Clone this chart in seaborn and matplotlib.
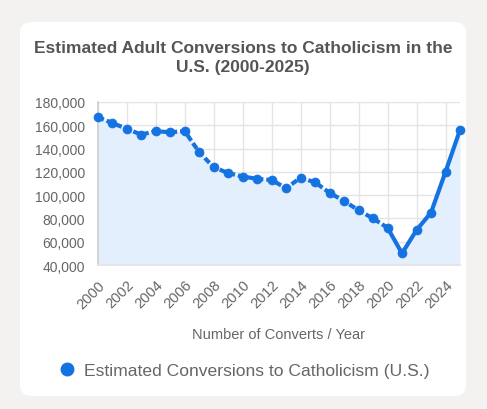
import matplotlib
matplotlib.use("Agg")
import matplotlib.pyplot as plt
import seaborn as sns
import pandas as pd
from matplotlib.patches import FancyBboxPatch
from matplotlib.lines import Line2D
from matplotlib.ticker import FuncFormatter

years = list(range(2000, 2026))
converts = [167000, 162000, 157000, 152000, 155000, 154000, 155000, 137000,
            124000, 119000, 116000, 114000, 113000, 106000, 115000, 111000,
            102000, 95000, 87000, 80000, 72000, 50000, 70000, 85000, 120000, 156000]
title = "Estimated Adult Conversions to Catholicism in the\nU.S. (2000-2025)"
series_name = "Estimated Conversions to Catholicism (U.S.)"
x_label = "Number of Converts / Year"

df = pd.DataFrame({"year": years, "converts": converts})
dashed = df[df.year <= 2020]
solid = df[df.year >= 2020]

sns.set_theme(style="white")
plt.rcParams['font.family'] = ['Liberation Sans', 'DejaVu Sans']

BLUE = "#1473e0"
FILL = "#e3effc"
GRID = "#e4e4e4"
TXT = "#666666"

fig = plt.figure(figsize=(4.87, 4.10), dpi=100)
fig.patch.set_facecolor("#f3f2f0")
card = FancyBboxPatch((20/487, 1-397/410), 446/487, 374/410,
                      boxstyle="round,pad=0,rounding_size=0.025",
                      transform=fig.transFigure, facecolor="white",
                      edgecolor="none", zorder=-5)
fig.patches.append(card)

ax = fig.add_axes([97.7/487, 1-266/410, (460-97.7)/487, (266-103)/410])
ax.set_zorder(2)
ax.set_facecolor("none")

ax.fill_between(df.year, df.converts, 40000, color=FILL, zorder=1, linewidth=0)
sns.lineplot(data=dashed, x="year", y="converts", ax=ax, color=BLUE,
             linewidth=3.0, zorder=3)
ax.lines[-1].set_dashes([1.6, 0.7])
sns.lineplot(data=solid, x="year", y="converts", ax=ax, color=BLUE,
             linewidth=3.0, zorder=3)
sns.scatterplot(data=df, x="year", y="converts", ax=ax, color=BLUE, s=42,
                edgecolor=BLUE, linewidth=0.5, zorder=4, clip_on=False)

ax.set_xlim(2000, 2025)
ax.set_ylim(40000, 180000)
ax.set_xticks(range(2000, 2025, 2))
ax.set_yticks(range(40000, 180001, 20000))
ax.yaxis.set_major_formatter(FuncFormatter(lambda v, p: f"{int(v):,}"))
ax.grid(True, color=GRID, linewidth=1)
ax.set_axisbelow(True)
for s in ax.spines.values():
    s.set_visible(False)
ax.spines['left'].set_visible(True)
ax.spines['left'].set_color("#d0d0d0")
ax.spines['bottom'].set_visible(True)
ax.spines['bottom'].set_color(GRID)
ax.tick_params(axis='both', which='both', length=6, color=GRID, width=1,
               labelcolor=TXT, labelsize=10, pad=3)
ax.tick_params(axis='x', labelsize=10.5)
plt.setp(ax.get_xticklabels(), rotation=45, ha="right", rotation_mode="anchor")
ax.set_xlabel(x_label, color=TXT, fontsize=10.5, labelpad=12)
ax.set_ylabel("")

fig.text(243/487, 1-58/410, title, ha="center", va="center", fontsize=12.5,
         fontweight="bold", color="#555555", linespacing=1.35)

handle = Line2D([], [], marker="o", linestyle="none", markersize=9,
                markerfacecolor=BLUE, markeredgecolor=BLUE)
fig.legend([handle], [series_name], loc="center", bbox_to_anchor=(244/487, 1-371/410),
           frameon=False, fontsize=12.6, labelcolor=TXT, handletextpad=0.5,
           handlelength=1.0)

fig.savefig("out.png", dpi=100, facecolor=fig.get_facecolor())
